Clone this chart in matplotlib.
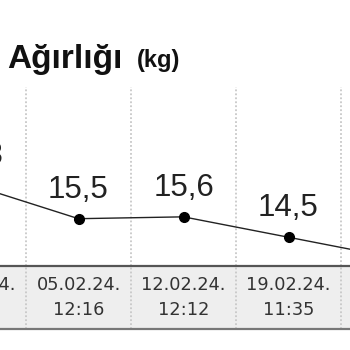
import matplotlib
matplotlib.use("Agg")
import matplotlib.pyplot as plt

# values (first and last points sit outside the crop)
dates = ["29.01.24.", "05.02.24.", "12.02.24.", "19.02.24.", "26.02.24."]
times = ["12:20", "12:16", "12:12", "11:35", "12:05"]
weights = [17.3, 15.5, 15.6, 14.5, 13.4]

W = H = 350
fig = plt.figure(figsize=(W / 100, H / 100), dpi=100)

# x positions: one slot per measurement
xs = list(range(len(weights)))
x_lo = (0 - 78.5) / 105 + 1
x_hi = (350 - 78.5) / 105 + 1

# plot area
ax = fig.add_axes([0, (H - 266) / H, 1, (266 - 87) / H])
ax.set_xlim(x_lo, x_hi)
ax.set_ylim(12.95, 22.6)
ax.axis("off")

# band with the date labels
band = fig.add_axes([0, (H - 329) / H, 1, (329 - 266) / H], sharex=ax)
band.set_facecolor("#eeeeee")
band.set_ylim(0, 1)
band.set_xticks([])
band.set_yticks([])
for s in ["left", "right"]:
    band.spines[s].set_visible(False)
band.spines["top"].set_color("#555555")
band.spines["top"].set_linewidth(1.6)
band.spines["bottom"].set_color("#777777")
band.spines["bottom"].set_linewidth(1.6)

# dotted separators between slots
for b in [i + 0.5 for i in xs[:-1]]:
    ax.axvline(b, color="#c8c8c8", lw=1.3, ls=(0, (1, 1.2)), zorder=0)
    band.axvline(b, color="#c8c8c8", lw=1.3, ls=(0, (1, 1.2)), zorder=0)

ax.plot(xs, weights, color="#222222", lw=1.0, marker="o", ms=7,
        mfc="black", mec="black", clip_on=False, zorder=3)

for x, v in zip(xs, weights):
    ax.annotate(f"{v:.1f}".replace(".", ","), (x, v), xytext=(0, 14),
                textcoords="offset pixels", ha="center", va="bottom",
                fontsize=22.5, family="Liberation Sans", color="#222222",
                annotation_clip=False)

for x, d, t in zip(xs, dates, times):
    band.text(x, 0.5, f"{d}\n{t}", ha="center", va="center",
              fontsize=12.8, color="#333333", linespacing=1.45,
              family="DejaVu Sans")

fig.text(7 / W, 1 - 68 / H, "Ağırlığı", fontsize=24, weight="bold",
         family="Liberation Sans", color="#111111", va="baseline")
fig.text(137 / W, 1 - 67 / H, "(kg)", fontsize=17, weight="bold",
         family="Liberation Sans", color="#111111", va="baseline")

fig.savefig("out.png", dpi=100)
